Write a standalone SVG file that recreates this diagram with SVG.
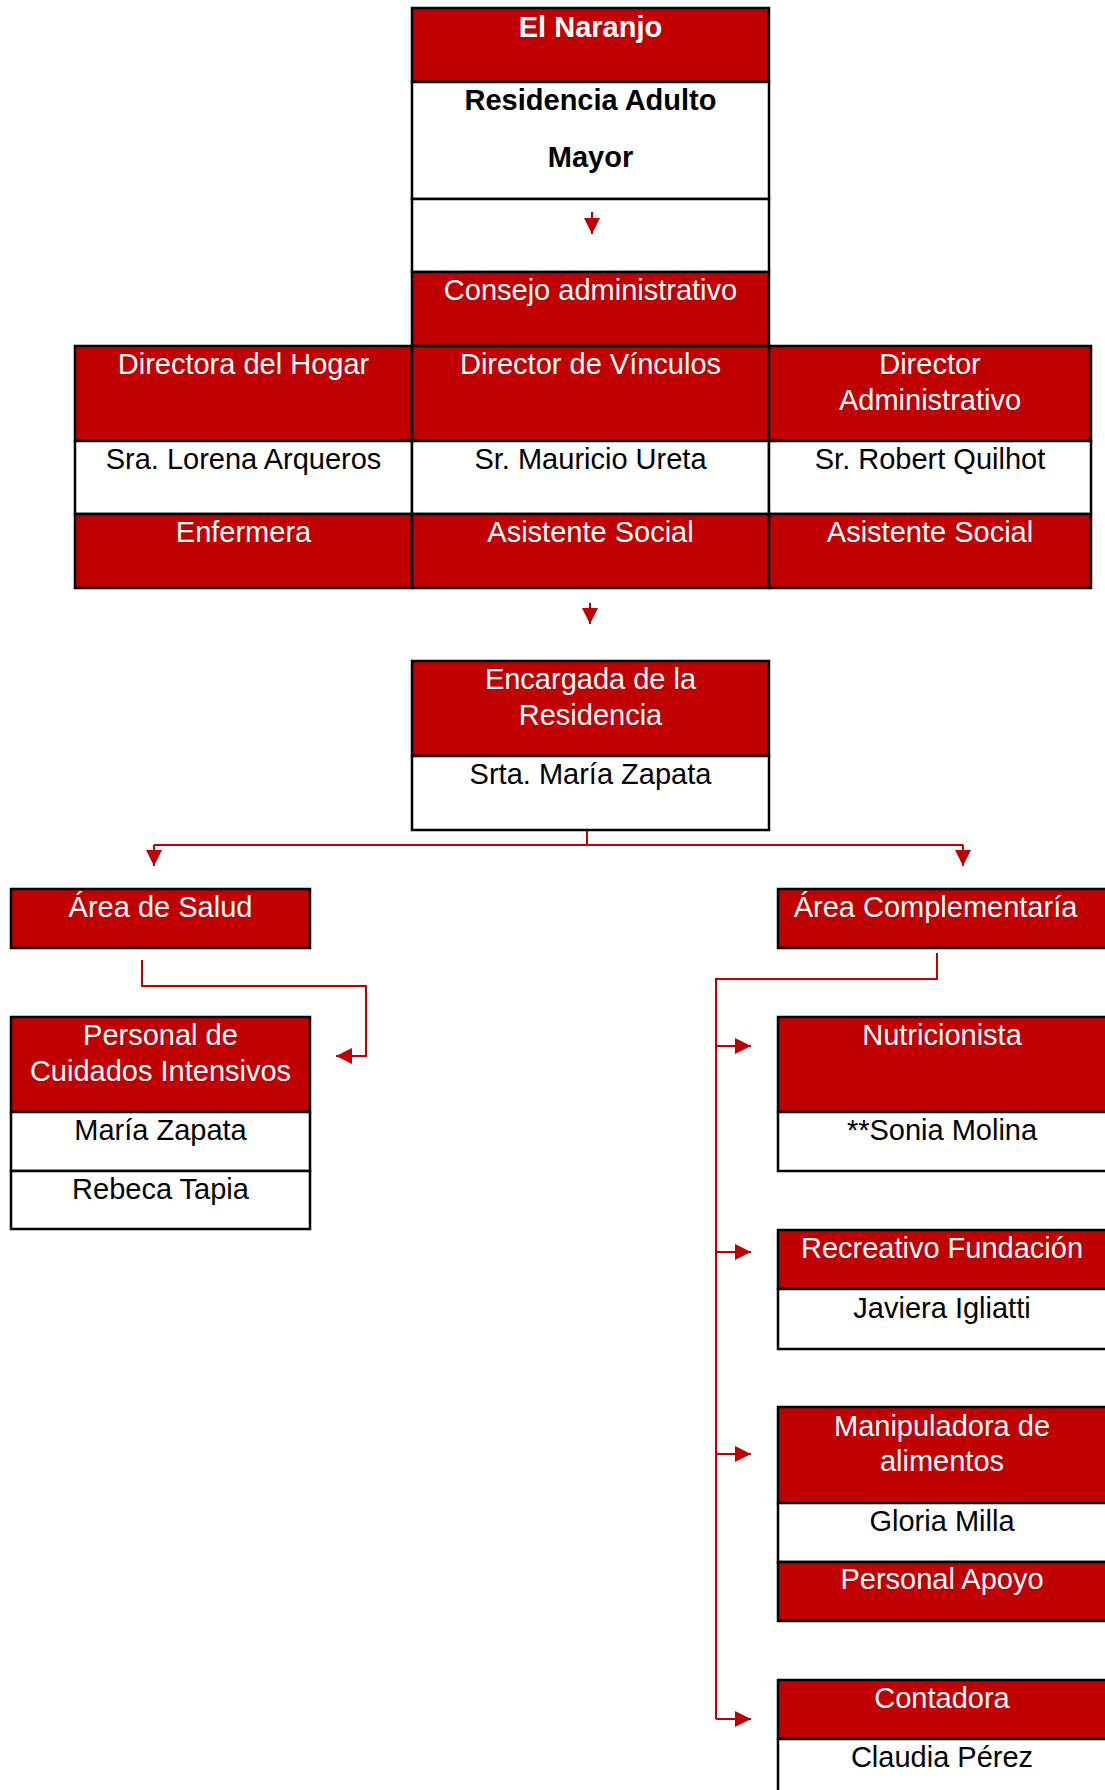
<svg xmlns="http://www.w3.org/2000/svg" width="1105" height="1790" viewBox="0 0 1105 1790">
<style>
.r{fill:#c00000;stroke:#000;stroke-width:2.5}
.w{fill:#fff;stroke:#000;stroke-width:2.5}
text{font-family:"Liberation Sans",Arial,sans-serif;font-size:29px;text-anchor:middle}
.tw{fill:#fff}
.tb{fill:#000}
.b{font-weight:bold}
.c{fill:none;stroke:#c00000;stroke-width:2}
</style>
<defs>
<marker id="ah" viewBox="0 0 16 16" refX="16" refY="8" markerWidth="16" markerHeight="16" markerUnits="userSpaceOnUse" orient="auto">
<path d="M0,0 L16,8 L0,16 z" fill="#c00000"/>
</marker>
</defs>
<rect width="1105" height="1790" fill="#fff"/>

<g id="el-naranjo">
<rect class="r" x="412" y="8" width="357" height="74"/>
<text class="tw b" x="590.5" y="37">El Naranjo</text>
<rect class="w" x="412" y="82" width="357" height="117"/>
<text class="tb b" x="590.5" y="110">Residencia Adulto</text>
<text class="tb b" x="590.5" y="167">Mayor</text>
<rect class="w" x="412" y="199" width="357" height="73"/>
</g>

<g id="consejo">
<rect class="r" x="412" y="272" width="357" height="74"/>
<text class="tw" x="590.5" y="300">Consejo administrativo</text>
</g>

<g id="directora-hogar">
<rect class="r" x="75" y="346" width="337" height="95"/>
<text class="tw" x="243.5" y="374">Directora del Hogar</text>
<rect class="w" x="75" y="441" width="337" height="73"/>
<text class="tb" x="243.5" y="469">Sra. Lorena Arqueros</text>
<rect class="r" x="75" y="514" width="337" height="74"/>
<text class="tw" x="243.5" y="542">Enfermera</text>
</g>

<g id="director-vinculos">
<rect class="r" x="412" y="346" width="357" height="95"/>
<text class="tw" x="590.5" y="374">Director de Vínculos</text>
<rect class="w" x="412" y="441" width="357" height="73"/>
<text class="tb" x="590.5" y="469">Sr. Mauricio Ureta</text>
<rect class="r" x="412" y="514" width="357" height="74"/>
<text class="tw" x="590.5" y="542">Asistente Social</text>
</g>

<g id="director-administrativo">
<rect class="r" x="769" y="346" width="322" height="95"/>
<text class="tw" x="930" y="374">Director</text>
<text class="tw" x="930" y="410">Administrativo</text>
<rect class="w" x="769" y="441" width="322" height="73"/>
<text class="tb" x="930" y="469">Sr. Robert Quilhot</text>
<rect class="r" x="769" y="514" width="322" height="74"/>
<text class="tw" x="930" y="542">Asistente Social</text>
</g>

<g id="encargada">
<rect class="r" x="412" y="661" width="357" height="95"/>
<text class="tw" x="590.5" y="689">Encargada de la</text>
<text class="tw" x="590.5" y="725">Residencia</text>
<rect class="w" x="412" y="756" width="357" height="74"/>
<text class="tb" x="590.5" y="784">Srta. María Zapata</text>
</g>

<g id="area-salud">
<rect class="r" x="11" y="889" width="299" height="59"/>
<text class="tw" x="160.5" y="917">Área de Salud</text>
</g>

<g id="cuidados-intensivos">
<rect class="r" x="11" y="1017" width="299" height="95"/>
<text class="tw" x="160.5" y="1045">Personal de</text>
<text class="tw" x="160.5" y="1081">Cuidados Intensivos</text>
<rect class="w" x="11" y="1112" width="299" height="59"/>
<text class="tb" x="160.5" y="1140">María Zapata</text>
<rect class="w" x="11" y="1171" width="299" height="58"/>
<text class="tb" x="160.5" y="1199">Rebeca Tapia</text>
</g>

<g id="area-complementaria">
<rect class="r" x="778" y="889" width="330" height="59"/>
<text class="tw" x="935.5" y="917">Área Complementaría</text>
</g>

<g id="nutricionista">
<rect class="r" x="778" y="1017" width="330" height="95"/>
<text class="tw" x="942" y="1045">Nutricionista</text>
<rect class="w" x="778" y="1112" width="330" height="59"/>
<text class="tb" x="942" y="1140">**Sonia Molina</text>
</g>

<g id="recreativo">
<rect class="r" x="778" y="1230" width="330" height="59"/>
<text class="tw" x="942" y="1258">Recreativo Fundación</text>
<rect class="w" x="778" y="1289" width="330" height="60"/>
<text class="tb" x="942" y="1318">Javiera Igliatti</text>
</g>

<g id="manipuladora">
<rect class="r" x="778" y="1407" width="330" height="96"/>
<text class="tw" x="942" y="1436">Manipuladora de</text>
<text class="tw" x="942" y="1471">alimentos</text>
<rect class="w" x="778" y="1503" width="330" height="59"/>
<text class="tb" x="942" y="1531">Gloria Milla</text>
<rect class="r" x="778" y="1562" width="330" height="59"/>
<text class="tw" x="942" y="1589">Personal Apoyo</text>
</g>

<g id="contadora">
<rect class="r" x="778" y="1680" width="330" height="59"/>
<text class="tw" x="942" y="1708">Contadora</text>
<rect class="w" x="778" y="1739" width="330" height="70"/>
<text class="tb" x="942" y="1767">Claudia Pérez</text>
</g>

<g id="connectors">
<path class="c" d="M592,212 L592,234" marker-end="url(#ah)"/>
<path class="c" d="M590,603 L590,624" marker-end="url(#ah)"/>
<path class="c" d="M587,831 L587,845"/>
<path class="c" d="M154,845 L963,845"/>
<path class="c" d="M154,845 L154,866" marker-end="url(#ah)"/>
<path class="c" d="M963,845 L963,866" marker-end="url(#ah)"/>
<path class="c" d="M142,960 L142,986 L366,986 L366,1056 L336,1056" marker-end="url(#ah)"/>
<path class="c" d="M937,953 L937,979 L716,979 L716,1719"/>
<path class="c" d="M716,1046 L751,1046" marker-end="url(#ah)"/>
<path class="c" d="M716,1252 L751,1252" marker-end="url(#ah)"/>
<path class="c" d="M716,1454 L751,1454" marker-end="url(#ah)"/>
<path class="c" d="M716,1719 L751,1719" marker-end="url(#ah)"/>
</g>
</svg>
